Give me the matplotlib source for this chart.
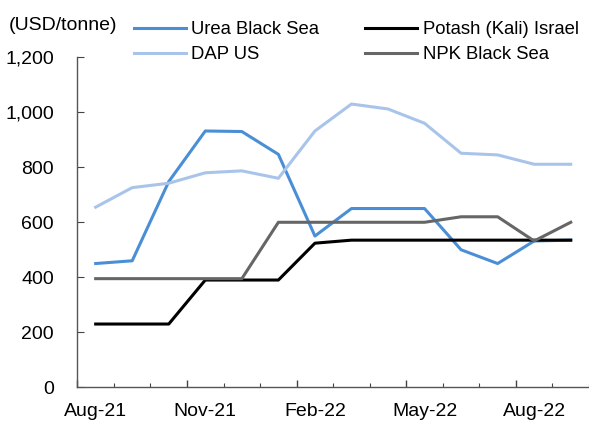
import matplotlib.pyplot as plt
from matplotlib.ticker import FixedLocator, FuncFormatter

plt.rcParams['font.family'] = ['Liberation Sans', 'DejaVu Sans']

# Datos mensuales (USD/tonne)
meses = ['Aug-21', 'Sep-21', 'Oct-21', 'Nov-21', 'Dec-21', 'Jan-22', 'Feb-22',
         'Mar-22', 'Apr-22', 'May-22', 'Jun-22', 'Jul-22', 'Aug-22', 'Sep-22']
urea = [450, 460, 748, 932, 930, 847, 550, 650, 650, 650, 500, 450, 532, 535]
potash = [230, 230, 230, 390, 390, 390, 524, 535, 535, 535, 535, 535, 535, 535]
dap = [655, 726, 742, 780, 787, 760, 932, 1030, 1012, 960, 851, 845, 811, 811]
npk = [395, 395, 395, 395, 395, 600, 600, 600, 600, 600, 620, 620, 532, 600]

fig = plt.figure(figsize=(5.89, 4.24), dpi=100)
ax = fig.add_axes([0.1314, 0.0866, 0.8686, 0.7783])

x = list(range(len(meses)))
lw = 2.2
ax.plot(x, urea, color='#4a8fd6', lw=lw, label='Urea Black Sea')
ax.plot(x, potash, color='#000000', lw=lw, label='Potash (Kali) Israel')
ax.plot(x, dap, color='#a9c4ea', lw=lw, label='DAP US')
ax.plot(x, npk, color='#666666', lw=lw, label='NPK Black Sea')

ax.set_ylim(0, 1200)
ax.set_xlim(-0.5, 13.5)
ax.set_yticks(range(0, 1201, 200))
ax.yaxis.set_major_formatter(FuncFormatter(lambda v, p: f'{int(v):,}'))

# Eje de categorías: marcas entre categorías, etiquetas cada 3 meses
ax.xaxis.set_major_locator(FixedLocator([-0.5 + 3 * i for i in range(5)]))
ax.xaxis.set_minor_locator(FixedLocator([-0.5 + i for i in range(15)]))
ax.set_xticklabels([])
for i in range(0, 14, 3):
    ax.text(i, -0.074, meses[i], transform=ax.get_xaxis_transform(),
            ha='center', va='center', fontsize=14)

ax.tick_params(axis='x', which='major', direction='in', length=5, width=1, color='#444444')
ax.tick_params(axis='x', which='minor', direction='in', length=3, width=0.8, color='#444444')
ax.tick_params(axis='y', direction='in', length=5, width=0.8, color='#444444',
               labelsize=14, pad=17)

for s in ['top', 'right']:
    ax.spines[s].set_visible(False)
for s in ['left', 'bottom']:
    ax.spines[s].set_color('#555555')
    ax.spines[s].set_linewidth(1.0)

fig.text(9 / 589, 1 - 25 / 424, '(USD/tonne)', ha='left', va='center', fontsize=14)

handles, labels = ax.get_legend_handles_labels()
order = [0, 2, 1, 3]
fig.legend([handles[i] for i in order], [labels[i] for i in order],
           loc='upper left', bbox_to_anchor=(134 / 589, 1 - 21.5 / 424),
           ncol=2, frameon=False, fontsize=13.3, borderpad=0, borderaxespad=0,
           handlelength=2.8, handletextpad=0.3, columnspacing=2.5,
           labelspacing=0.41)

fig.savefig('out.png', dpi=100)
